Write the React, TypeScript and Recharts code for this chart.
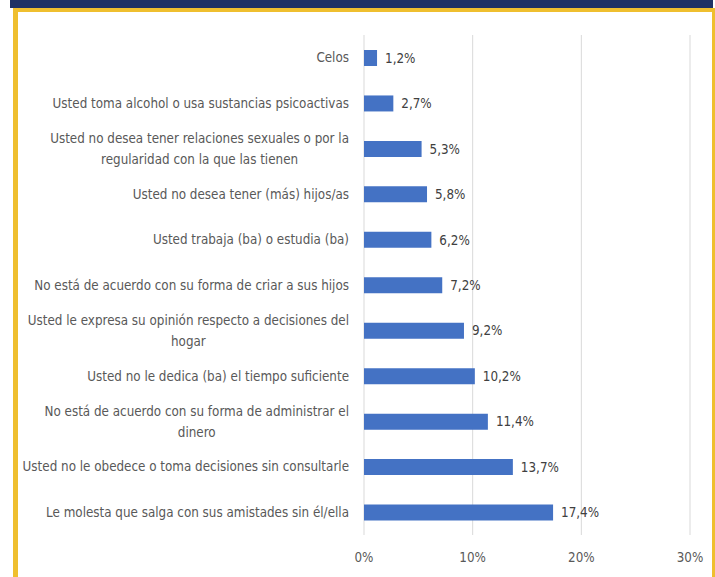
import React from 'react';
import { BarChart, Bar, XAxis, YAxis, CartesianGrid, LabelList } from 'recharts';

const categories = [
  'Celos',
  'Usted toma alcohol o usa sustancias psicoactivas',
  'Usted no desea tener relaciones sexuales o por la\nregularidad con la que las tienen',
  'Usted no desea tener (más) hijos/as',
  'Usted trabaja (ba) o estudia (ba)',
  'No está de acuerdo con su forma de criar a sus hijos',
  'Usted le expresa su opinión respecto a decisiones del\nhogar',
  'Usted no le dedica (ba) el tiempo suficiente',
  'No está de acuerdo con su forma de administrar el\ndinero',
  'Usted no le obedece o toma decisiones sin consultarle',
  'Le molesta que salga con sus amistades sin él/ella',
];
const values = [1.2, 2.7, 5.3, 5.8, 6.2, 7.2, 9.2, 10.2, 11.4, 13.7, 17.4];
const xTicks = [0, 10, 20, 30];

const data = categories.map((c, i) => ({ name: c, value: values[i] }));

const FONT = "'Liberation Sans Narrow', 'DejaVu Sans Condensed', 'Liberation Sans', sans-serif";
const FS = 13.3;

let ctx: CanvasRenderingContext2D | null = null;
function measure(s: string): number {
  if (!ctx) {
    ctx = document.createElement('canvas').getContext('2d');
  }
  if (!ctx) return s.length * 6;
  ctx.font = `${FS}px ${FONT}`;
  return ctx.measureText(s).width;
}

const YTick = (props: any) => {
  const { x, y, payload } = props;
  const lines: string[] = String(payload.value).split('\n');
  if (lines.length === 1) {
    return (
      <text x={x} y={y} dy="0.35em" textAnchor="end" fill="#595959" fontSize={FS} fontFamily={FONT}>
        {lines[0]}
      </text>
    );
  }
  const w = Math.max(...lines.map(measure));
  const cx = x - w / 2;
  const lh = 21;
  const start = y - ((lines.length - 1) * lh) / 2;
  return (
    <g>
      {lines.map((l, i) => (
        <text key={i} x={cx} y={start + i * lh} dy="0.35em" textAnchor="middle" fill="#595959" fontSize={FS} fontFamily={FONT}>
          {l}
        </text>
      ))}
    </g>
  );
};

export default function App() {
  return (
    <div style={{ position: 'absolute', left: 0, top: 0, width: 715, height: 577, background: '#fff', overflow: 'hidden' }}>
      <div style={{ position: 'absolute', left: 10, top: 0, width: 703, height: 8, background: '#1f3264' }} />
      <div style={{ position: 'absolute', left: 13, top: 8, width: 702, height: 4, background: '#efbf2f' }} />
      <div style={{ position: 'absolute', left: 13, top: 8, width: 5, height: 569, background: '#efbf2f' }} />
      <div style={{ position: 'absolute', left: 712, top: 8, width: 3, height: 569, background: '#efbf2f' }} />
      <div style={{ position: 'absolute', left: 0, top: 0 }}>
        <BarChart
          width={715}
          height={577}
          data={data}
          layout="vertical"
          margin={{ top: 35, right: 25, bottom: 0, left: 0 }}
        >
          <CartesianGrid horizontal={false} stroke="#d9d9d9" />
          <XAxis
            type="number"
            domain={[0, 30]}
            ticks={xTicks}
            tickFormatter={(v: number) => `${v}%`}
            axisLine={false}
            tickLine={false}
            tickMargin={12}
            height={42}
            tick={{ fill: '#595959', fontSize: FS, fontFamily: FONT }}
          />
          <YAxis
            type="category"
            dataKey="name"
            width={364}
            axisLine={false}
            tickLine={false}
            tickMargin={9}
            interval={0}
            tick={<YTick />}
          />
          <Bar dataKey="value" fill="#4472c4" barSize={16} isAnimationActive={false}>
            <LabelList
              dataKey="value"
              position="right"
              offset={8}
              formatter={(v: any) => `${Number(v).toFixed(1).replace('.', ',')}%`}
              fill="#404040"
              fontSize={FS}
              fontFamily={FONT}
            />
          </Bar>
        </BarChart>
      </div>
    </div>
  );
}
